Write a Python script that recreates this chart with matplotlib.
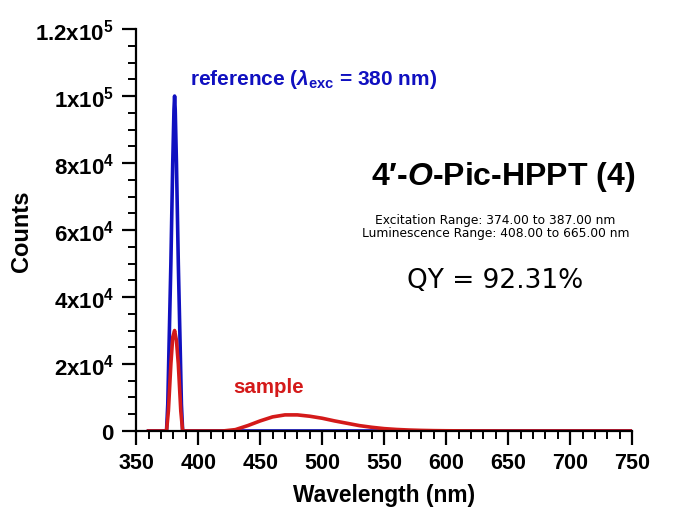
import matplotlib
matplotlib.use("Agg")
import matplotlib.pyplot as plt
from matplotlib.ticker import MultipleLocator

plt.rcParams['font.family'] = ['Liberation Sans', 'DejaVu Sans']
plt.rcParams['mathtext.fontset'] = 'custom'
plt.rcParams['mathtext.rm'] = 'Liberation Sans:bold'
plt.rcParams['mathtext.it'] = 'Liberation Sans:bold:italic'
plt.rcParams['mathtext.bf'] = 'Liberation Sans:bold'

# reference (excitation scatter) spectrum
ref_wl = [360, 370, 374.5, 375.5, 376.5, 378, 379.5, 380.5, 381, 381.5, 382.5, 384, 385.5, 386.5, 387.5,
          390, 400, 500, 600, 750]
ref_counts = [0, 0, 0, 8000, 25000, 50000, 80000, 96000, 100000, 96000, 80000, 50000, 25000, 8000, 0,
              0, 0, 0, 0, 0]

# sample spectrum (scatter + emission)
smp_wl = [360, 370, 374.5, 376, 378, 379.5, 381, 382.5, 384, 386, 387.5, 390, 400, 420, 430, 440, 450, 460,
          470, 480, 490, 500, 510, 520, 530, 540, 550, 560, 570, 580, 590, 600, 620, 650, 700, 750]
smp_counts = [0, 0, 0, 6000, 20000, 28000, 30000, 27000, 20000, 6000, 0, 0, 0, 0, 400, 1600, 3000, 4200,
              4800, 4800, 4400, 3800, 3000, 2300, 1600, 1100, 700, 450, 280, 170, 100, 60, 20, 0, 0, 0]

y_ticks = [0, 20000, 40000, 60000, 80000, 100000, 120000]
y_labels = ['0', '2x10$^{4}$', '4x10$^{4}$', '6x10$^{4}$', '8x10$^{4}$', '1x10$^{5}$', '1.2x10$^{5}$']
x_ticks = [350, 400, 450, 500, 550, 600, 650, 700, 750]

fig = plt.figure(figsize=(6.74, 5.10), dpi=100)
ax = fig.add_axes([0.202, 0.153, 0.736, 0.788])

blue = '#1010C0'
red = '#D41A1A'
ax.plot(ref_wl, ref_counts, color=blue, lw=2.6, zorder=3)
ax.plot(smp_wl, smp_counts, color=red, lw=2.6, zorder=4)

ax.set_xlim(350, 750)
ax.set_ylim(0, 120000)
ax.set_xticks(x_ticks)
ax.set_xticklabels([str(v) for v in x_ticks])
ax.xaxis.set_minor_locator(MultipleLocator(10))
ax.set_yticks(y_ticks)
ax.set_yticklabels(y_labels)
ax.yaxis.set_minor_locator(MultipleLocator(5000))

for s in ['top', 'right']:
    ax.spines[s].set_visible(False)
for s in ['left', 'bottom']:
    ax.spines[s].set_linewidth(1.6)
    ax.spines[s].set_zorder(5)

ax.tick_params(which='major', length=10, width=1.6, direction='out')
ax.tick_params(axis='x', which='major', labelsize=15.5, pad=5)
ax.tick_params(axis='y', which='major', labelsize=16, pad=6)
ax.tick_params(which='minor', length=6, width=1.4, direction='out')
for lbl in ax.get_xticklabels() + ax.get_yticklabels():
    lbl.set_fontweight('bold')

ax.set_xlabel('Wavelength (nm)', fontsize=16.4, fontweight='bold', labelpad=7.5)
ax.set_ylabel('Counts', fontsize=17, fontweight='bold', labelpad=2)

ax.text(0.109, 0.876, r'reference ($\lambda_{\rm exc}$ = 380 nm)', transform=ax.transAxes,
        color=blue, fontsize=15, fontweight='bold', ha='left', va='center')
ax.text(0.196, 0.11, 'sample', transform=ax.transAxes, color=red, fontsize=14.8,
        fontweight='bold', ha='left', va='center')

ax.text(0.74, 0.634, r"4′-$\it{O}$-Pic-HPPT (4)", transform=ax.transAxes, fontsize=23,
        fontweight='bold', ha='center', va='center')
ax.text(0.724, 0.527, 'Excitation Range: 374.00 to 387.00 nm', transform=ax.transAxes,
        fontsize=8.8, family='DejaVu Sans', ha='center', va='center')
ax.text(0.724, 0.494, 'Luminescence Range: 408.00 to 665.00 nm', transform=ax.transAxes,
        fontsize=8.8, family='DejaVu Sans', ha='center', va='center')
ax.text(0.723, 0.376, 'QY = 92.31%', transform=ax.transAxes, fontsize=19,
        family='DejaVu Sans', ha='center', va='center')

fig.savefig('out.png', dpi=100)
